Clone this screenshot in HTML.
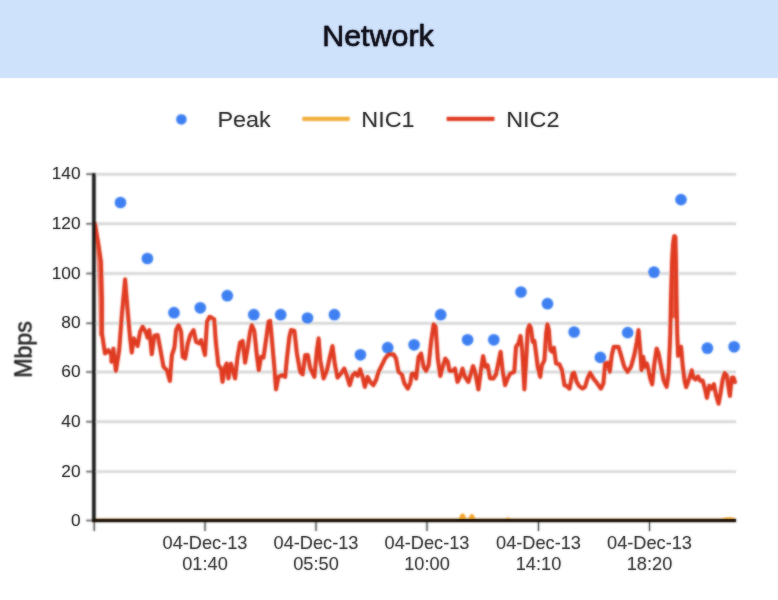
<!DOCTYPE html>
<html><head><meta charset="utf-8"><title>Network</title>
<style>
html,body{margin:0;padding:0;background:#fff;}
body{width:778px;height:600px;overflow:hidden;font-family:"Liberation Sans",sans-serif;}
svg{display:block;position:absolute;left:0;top:0;}
.sh{filter:blur(0.8px);}
.tx{filter:blur(0.8px);}
text{font-family:"Liberation Sans",sans-serif;}
</style></head><body>
<svg width="778" height="600" viewBox="0 0 778 600">
<rect x="0" y="0" width="778" height="600" fill="#ffffff"/>
<rect x="-5" y="-5" width="788" height="83.1" fill="#cfe2fc"/>

<defs>
<g id="shp">
<circle cx="181.4" cy="119.4" r="5.0" fill="#3e80f2"/>
<line x1="302.5" y1="118.9" x2="349.5" y2="118.9" stroke="#f2ae38" stroke-width="3.9"/>
<line x1="446.8" y1="118.9" x2="494.3" y2="118.9" stroke="#e03a20" stroke-width="3.9"/>
<line x1="94.0" y1="174.2" x2="736.0" y2="174.2" stroke="#dadada" stroke-width="2.4"/>
<line x1="94.0" y1="223.8" x2="736.0" y2="223.8" stroke="#dadada" stroke-width="2.4"/>
<line x1="94.0" y1="273.5" x2="736.0" y2="273.5" stroke="#dadada" stroke-width="2.4"/>
<line x1="94.0" y1="323.3" x2="736.0" y2="323.3" stroke="#dadada" stroke-width="2.4"/>
<line x1="94.0" y1="372.0" x2="736.0" y2="372.0" stroke="#dadada" stroke-width="2.4"/>
<line x1="94.0" y1="421.7" x2="736.0" y2="421.7" stroke="#dadada" stroke-width="2.4"/>
<line x1="94.0" y1="471.6" x2="736.0" y2="471.6" stroke="#dadada" stroke-width="2.4"/>
<line x1="86.3" y1="174.2" x2="94" y2="174.2" stroke="#707070" stroke-width="1.5"/>
<line x1="86.3" y1="223.8" x2="94" y2="223.8" stroke="#707070" stroke-width="1.5"/>
<line x1="86.3" y1="273.5" x2="94" y2="273.5" stroke="#707070" stroke-width="1.5"/>
<line x1="86.3" y1="323.3" x2="94" y2="323.3" stroke="#707070" stroke-width="1.5"/>
<line x1="86.3" y1="372.0" x2="94" y2="372.0" stroke="#707070" stroke-width="1.5"/>
<line x1="86.3" y1="421.7" x2="94" y2="421.7" stroke="#707070" stroke-width="1.5"/>
<line x1="86.3" y1="471.6" x2="94" y2="471.6" stroke="#707070" stroke-width="1.5"/>
<line x1="86.3" y1="520.5" x2="94" y2="520.5" stroke="#707070" stroke-width="1.5"/>
<line x1="94.2" y1="520" x2="94.2" y2="531" stroke="#3a3a3a" stroke-width="1.05"/>
<line x1="205.0" y1="520" x2="205.0" y2="531" stroke="#3a3a3a" stroke-width="1.05"/>
<line x1="316.0" y1="520" x2="316.0" y2="531" stroke="#3a3a3a" stroke-width="1.05"/>
<line x1="427.0" y1="520" x2="427.0" y2="531" stroke="#3a3a3a" stroke-width="1.05"/>
<line x1="538.5" y1="520" x2="538.5" y2="531" stroke="#3a3a3a" stroke-width="1.05"/>
<line x1="649.5" y1="520" x2="649.5" y2="531" stroke="#3a3a3a" stroke-width="1.05"/>
<circle cx="120.5" cy="202.5" r="5.6" fill="#3e80f2"/>
<circle cx="147.4" cy="258.5" r="5.6" fill="#3e80f2"/>
<circle cx="174.0" cy="312.7" r="5.6" fill="#3e80f2"/>
<circle cx="200.3" cy="307.8" r="5.6" fill="#3e80f2"/>
<circle cx="227.3" cy="295.7" r="5.6" fill="#3e80f2"/>
<circle cx="253.8" cy="314.7" r="5.6" fill="#3e80f2"/>
<circle cx="280.7" cy="314.7" r="5.6" fill="#3e80f2"/>
<circle cx="307.5" cy="318.0" r="5.6" fill="#3e80f2"/>
<circle cx="334.4" cy="314.7" r="5.6" fill="#3e80f2"/>
<circle cx="360.4" cy="354.8" r="5.6" fill="#3e80f2"/>
<circle cx="387.7" cy="347.7" r="5.6" fill="#3e80f2"/>
<circle cx="414.1" cy="344.8" r="5.6" fill="#3e80f2"/>
<circle cx="440.7" cy="314.7" r="5.6" fill="#3e80f2"/>
<circle cx="467.6" cy="339.8" r="5.6" fill="#3e80f2"/>
<circle cx="493.8" cy="339.8" r="5.6" fill="#3e80f2"/>
<circle cx="521.0" cy="292.0" r="5.6" fill="#3e80f2"/>
<circle cx="547.5" cy="303.7" r="5.6" fill="#3e80f2"/>
<circle cx="574.1" cy="332.0" r="5.6" fill="#3e80f2"/>
<circle cx="600.4" cy="357.4" r="5.6" fill="#3e80f2"/>
<circle cx="627.7" cy="332.6" r="5.6" fill="#3e80f2"/>
<circle cx="654.0" cy="272.2" r="5.6" fill="#3e80f2"/>
<circle cx="681.0" cy="199.6" r="5.6" fill="#3e80f2"/>
<circle cx="707.4" cy="348.2" r="5.6" fill="#3e80f2"/>
<circle cx="734.1" cy="346.8" r="5.6" fill="#3e80f2"/>
<path d="M96.2 232 L98.2 262 L99.6 300 L100.3 335" fill="none" stroke="#e65238" stroke-width="2.6" opacity="0.6" stroke-linecap="round"/>
<path d="M670.7 318 L670.9 300 L672.0 262 L673.0 244 L674.2 236 L675.4 237 L676.0 262 L676.5 300 L676.9 318 Z" fill="#e6482c" opacity="0.8"/>
<path d="M95.0 223.7 L98.5 245.0 L101.0 262.0 L102.0 300.0 L102.0 333.4 L105.0 353.5 L108.4 350.1 L111.4 355.1 L111.4 361.8 L113.4 348.5 L115.9 371.0 L119.2 350.1 L121.7 316.7 L125.1 279.4 L127.6 310.0 L130.1 338.4 L131.8 352.6 L133.8 338.4 L137.6 346.0 L140.1 331.7 L142.6 326.7 L146.0 332.6 L147.6 337.6 L149.3 330.1 L151.8 354.3 L154.3 335.9 L157.7 335.1 L160.2 348.5 L163.5 366.8 L166.9 370.2 L169.9 381.0 L171.9 355.1 L174.4 347.6 L176.1 330.1 L178.6 325.1 L181.1 331.7 L182.7 356.8 L185.2 358.5 L187.8 343.4 L190.3 335.1 L193.6 330.1 L196.1 341.8 L199.4 343.4 L201.1 340.1 L205.0 355.1 L207.0 321.7 L209.5 316.7 L210.0 316.7 L214.2 319.2 L215.8 341.8 L218.4 365.2 L220.9 368.5 L222.5 381.9 L225.0 366.8 L226.7 363.5 L228.4 378.5 L230.9 363.5 L235.1 378.5 L237.6 356.8 L240.1 342.6 L242.6 340.9 L245.1 362.7 L247.6 348.5 L250.1 331.7 L251.8 325.1 L254.3 330.9 L256.8 355.1 L258.8 370.2 L261.0 356.8 L263.5 357.6 L266.0 340.1 L268.5 321.7 L270.2 320.9 L271.8 338.4 L274.3 366.8 L276.0 389.4 L278.5 376.9 L281.9 375.2 L285.2 376.9 L286.9 358.5 L289.4 336.8 L291.0 330.1 L294.4 330.9 L296.9 353.5 L300.2 371.9 L302.7 374.4 L305.2 355.1 L307.8 355.1 L310.3 368.5 L314.4 376.9 L316.9 350.1 L318.6 338.4 L320.3 360.2 L323.6 378.5 L327.0 370.2 L329.5 358.5 L332.5 346.0 L335.0 365.2 L337.5 377.7 L340.9 373.5 L344.2 368.5 L346.7 375.2 L349.7 385.2 L352.6 375.2 L355.1 372.7 L357.6 376.0 L360.1 369.3 L362.6 376.9 L364.8 386.9 L367.6 376.9 L370.1 381.9 L373.4 385.2 L376.0 380.2 L378.5 371.9 L381.8 365.2 L385.1 358.5 L388.5 354.3 L393.5 354.3 L396.0 358.5 L398.5 371.9 L401.9 374.4 L404.4 383.5 L407.7 388.6 L410.2 383.5 L411.9 373.5 L414.4 373.5 L416.1 378.5 L418.6 356.8 L421.1 353.5 L423.6 366.8 L426.1 371.0 L428.6 365.2 L431.1 341.8 L433.6 324.2 L435.6 326.7 L437.8 358.5 L440.3 376.0 L442.8 366.8 L445.3 358.5 L447.8 361.8 L449.5 371.0 L452.5 371.0 L455.0 368.5 L457.5 381.9 L460.0 376.9 L462.5 368.5 L465.0 376.9 L468.4 381.9 L470.9 373.5 L473.1 366.0 L475.1 371.9 L478.4 389.4 L480.9 370.2 L483.1 356.0 L485.4 366.8 L487.6 365.2 L490.1 378.5 L493.4 378.5 L496.0 374.4 L498.5 361.8 L500.6 351.8 L502.6 370.2 L505.1 385.2 L507.6 378.5 L510.2 373.5 L514.3 371.9 L516.0 346.8 L518.5 343.4 L520.5 335.9 L522.2 350.1 L524.4 389.4 L526.0 363.5 L527.7 330.1 L529.4 325.1 L531.0 328.4 L532.7 341.8 L534.4 340.9 L536.1 353.5 L537.7 366.8 L540.2 376.9 L541.9 365.2 L544.4 360.2 L546.1 333.4 L547.4 324.2 L548.9 330.1 L550.3 350.1 L552.3 351.8 L553.9 347.6 L556.1 363.5 L559.4 364.3 L562.0 370.2 L564.5 385.2 L567.0 386.1 L569.5 388.6 L572.5 373.5 L574.2 372.7 L576.7 381.9 L579.2 386.1 L582.5 388.6 L585.0 386.9 L587.5 378.5 L590.1 372.7 L593.4 378.5 L596.7 382.7 L600.9 388.6 L603.4 383.5 L605.1 363.5 L607.6 362.7 L609.8 371.9 L611.8 355.1 L613.8 346.8 L618.5 346.8 L621.0 355.1 L624.3 366.8 L627.6 371.9 L631.0 366.8 L634.3 355.1 L636.8 341.8 L638.5 330.1 L640.2 350.1 L641.5 370.2 L643.2 356.8 L644.9 366.8 L646.9 363.5 L648.5 370.2 L650.2 378.5 L652.2 384.4 L654.4 363.5 L656.6 348.5 L658.6 353.5 L661.1 366.8 L663.6 380.2 L666.6 386.9 L668.6 373.5 L670.3 333.4 L670.9 300.0 L672.0 262.0 L673.0 244.0 L674.2 236.0 L675.4 237.0 L676.0 262.0 L676.5 300.0 L677.2 333.4 L678.1 356.0 L679.4 348.5 L681.1 346.8 L682.8 366.8 L684.8 381.9 L686.2 387.2 L689.3 378.5 L691.8 370.3 L693.4 377.5 L695.4 379.5 L698.0 376.5 L700.1 380.6 L702.6 380.6 L705.2 389.8 L706.9 398.0 L709.3 385.7 L711.4 388.8 L713.9 384.2 L716.0 395.0 L718.6 403.7 L720.6 392.9 L722.7 379.5 L724.7 372.9 L726.8 375.4 L728.3 385.7 L729.9 396.0 L730.9 385.7 L731.9 377.5 L733.5 377.5 L735.0 382.1" fill="none" stroke="#e03a20" stroke-width="3.65" stroke-linejoin="round" stroke-linecap="round"/>
<path d="M95.5 519.1 L735 519.1" fill="none" stroke="#f5a52c" stroke-width="1.3" opacity="0.55"/>
<path d="M459.6 519 L460.6 515.4 L462 514 L463.6 514.2 L464.8 516 L465.6 519 Z M469.2 519 L470 516 L471.2 514.6 L472.8 514.8 L473.8 516.5 L474.4 519 Z M506.5 519 L508 517.6 L509.5 519 Z M722 519.2 L726 518 L732 518 L735 519.2 Z" fill="#f5a52c" stroke="#f5a52c" stroke-width="0.8" stroke-linejoin="round"/>
<line x1="93.9" y1="173.2" x2="93.9" y2="521.9" stroke="#161616" stroke-width="3.1"/>
<line x1="92.3" y1="520.6" x2="736" y2="520.6" stroke="#150c03" stroke-width="3.0"/>
</g>
<g id="txt">
<text transform="translate(217.4,126.9) scale(1.05,1)" font-size="22.3" fill="#1e1e1e">Peak</text>
<text transform="translate(361.3,126.9) scale(1.05,1)" font-size="22.3" fill="#1e1e1e">NIC1</text>
<text transform="translate(506.2,126.9) scale(1.05,1)" font-size="22.3" fill="#1e1e1e">NIC2</text>
<text x="80.5" y="179.2" font-size="17.3" text-anchor="end" fill="#1c1c1c">140</text>
<text x="80.5" y="228.8" font-size="17.3" text-anchor="end" fill="#1c1c1c">120</text>
<text x="80.5" y="278.5" font-size="17.3" text-anchor="end" fill="#1c1c1c">100</text>
<text x="80.5" y="328.3" font-size="17.3" text-anchor="end" fill="#1c1c1c">80</text>
<text x="80.5" y="377.0" font-size="17.3" text-anchor="end" fill="#1c1c1c">60</text>
<text x="80.5" y="426.7" font-size="17.3" text-anchor="end" fill="#1c1c1c">40</text>
<text x="80.5" y="476.6" font-size="17.3" text-anchor="end" fill="#1c1c1c">20</text>
<text x="80.5" y="525.5" font-size="17.3" text-anchor="end" fill="#1c1c1c">0</text>
<text transform="translate(31.5,349.5) rotate(-90)" font-size="23.2" text-anchor="middle" fill="#111" stroke="#111" stroke-width="0.3">Mbps</text>
<text x="205.0" y="549.0" font-size="18.2" text-anchor="middle" fill="#2a2a2a">04-Dec-13</text>
<text x="205.0" y="570.4" font-size="18.2" text-anchor="middle" fill="#2a2a2a">01:40</text>
<text x="316.0" y="549.0" font-size="18.2" text-anchor="middle" fill="#2a2a2a">04-Dec-13</text>
<text x="316.0" y="570.4" font-size="18.2" text-anchor="middle" fill="#2a2a2a">05:50</text>
<text x="427.0" y="549.0" font-size="18.2" text-anchor="middle" fill="#2a2a2a">04-Dec-13</text>
<text x="427.0" y="570.4" font-size="18.2" text-anchor="middle" fill="#2a2a2a">10:00</text>
<text x="538.5" y="549.0" font-size="18.2" text-anchor="middle" fill="#2a2a2a">04-Dec-13</text>
<text x="538.5" y="570.4" font-size="18.2" text-anchor="middle" fill="#2a2a2a">14:10</text>
<text x="649.5" y="549.0" font-size="18.2" text-anchor="middle" fill="#2a2a2a">04-Dec-13</text>
<text x="649.5" y="570.4" font-size="18.2" text-anchor="middle" fill="#2a2a2a">18:20</text>
</g>
<g id="ttl">
<text transform="translate(378.0,46.1) scale(1.05,1)" font-size="29" text-anchor="middle" fill="#0a0a14" stroke="#0a0a14" stroke-width="0.45" stroke-linejoin="round">Network</text>
</g>
</defs>
<use href="#shp" class="sh"/>
<use href="#shp" opacity="0.5"/>
<use href="#txt" class="tx" opacity="0.4"/>
<use href="#txt" opacity="0.8"/>
<use href="#ttl" class="tx" opacity="0.55"/>
<use href="#ttl" opacity="0.9"/>
</svg></body></html>
